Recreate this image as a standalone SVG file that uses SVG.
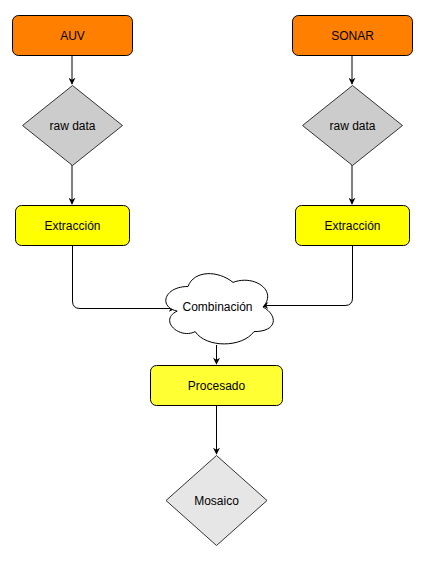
<svg xmlns="http://www.w3.org/2000/svg" width="443" height="561" viewBox="0 0 443 561">
<style>
.src{fill:#FF8000;stroke:#000;stroke-width:1}
.dia{fill:#CCCCCC;stroke:#333;stroke-width:1}
.ext{fill:#FFFF00;stroke:#000;stroke-width:1}
.proc{fill:#FFFF33;stroke:#000;stroke-width:1}
.mos{fill:#E6E6E6;stroke:#333;stroke-width:1}
.cloud{fill:#fff;stroke:#000;stroke-width:1}
.lbl{font-family:"Liberation Sans",Arial,sans-serif;font-size:12px;fill:#000;text-anchor:middle;dominant-baseline:central}
.edge{fill:none;stroke:#000;stroke-width:1}
</style>
<defs>
<marker id="arr" viewBox="0 0 10 10" refX="9" refY="5" markerWidth="7" markerHeight="7" orient="auto" markerUnits="userSpaceOnUse">
<path d="M0,0 L10,5 L0,10 L3,5 Z" fill="#000"/>
</marker>
</defs>
<rect width="443" height="561" fill="#fff"/>
<g id="connectors">
<path class="edge" d="M72,55 V84" marker-end="url(#arr)"/>
<path class="edge" d="M72,165 V204" marker-end="url(#arr)"/>
<path class="edge" d="M352,55 V84" marker-end="url(#arr)"/>
<path class="edge" d="M352,165 V204" marker-end="url(#arr)"/>
<path class="edge" d="M72.5,245 V301 Q72.5,308.5 80,308.5 H175" marker-end="url(#arr)"/>
<path class="edge" d="M352.5,245 V298 Q352.5,305.5 345,305.5 H262" marker-end="url(#arr)"/>
<path class="edge" d="M216.5,345 V364" marker-end="url(#arr)"/>
<path class="edge" d="M216.5,405 V454" marker-end="url(#arr)"/>
</g>
<g id="auv">
<rect class="src" x="12.5" y="15.5" width="120" height="40" rx="6"/>
<text class="lbl" x="72.5" y="35.5">AUV</text>
</g>
<g id="raw1">
<path class="dia" d="M72.5,85.5 L122.5,125.5 L72.5,165.5 L22.5,125.5 Z"/>
<text class="lbl" x="72.5" y="125.5">raw data</text>
</g>
<g id="ext1">
<rect class="ext" x="15.5" y="205.5" width="114" height="40" rx="6"/>
<text class="lbl" x="72.5" y="225.5">Extracción</text>
</g>
<g id="sonar">
<rect class="src" x="292.5" y="15.5" width="120" height="40" rx="6"/>
<text class="lbl" x="352.5" y="35.5">SONAR</text>
</g>
<g id="raw2">
<path class="dia" d="M352.5,85.5 L402.5,125.5 L352.5,165.5 L302.5,125.5 Z"/>
<text class="lbl" x="352.5" y="125.5">raw data</text>
</g>
<g id="ext2">
<rect class="ext" x="295.5" y="205.5" width="114" height="40" rx="6"/>
<text class="lbl" x="352.5" y="225.5">Extracción</text>
</g>
<g id="combinacion">
<path class="cloud" d="M188,286.5 C164,286.5 158,307 177.2,311.1 C158,320.1 179.6,339.8 195.2,331.6 C206,348 242,348 254,331.6 C278,331.6 278,315.2 263,307 C278,290.6 254,274.2 233,282.4 C218,270.1 194,270.1 188,286.5 Z"/>
<text class="lbl" x="217.5" y="306.5">Combinación</text>
</g>
<g id="procesado">
<rect class="proc" x="150.5" y="365.5" width="132" height="40" rx="6"/>
<text class="lbl" x="216.5" y="385.5">Procesado</text>
</g>
<g id="mosaico">
<path class="mos" d="M216.5,455.5 L267,500.5 L216.5,545.5 L166,500.5 Z"/>
<text class="lbl" x="216.5" y="500.5">Mosaico</text>
</g>
</svg>
